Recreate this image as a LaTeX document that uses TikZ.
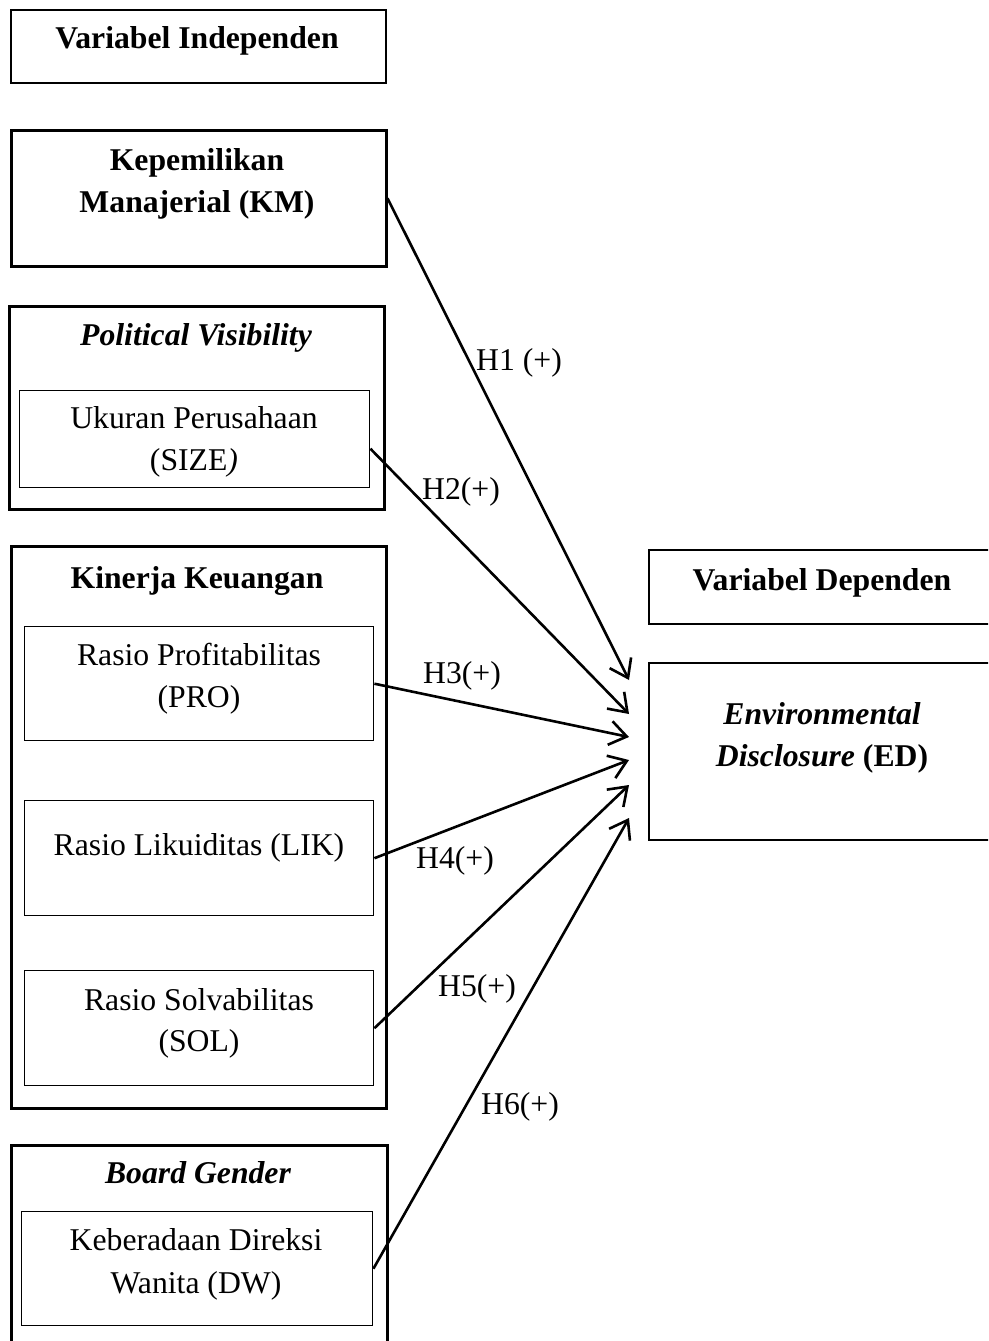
\documentclass[tikz,border=0pt]{standalone}
\usepackage{fontspec}
\setmainfont{Liberation Serif}
\usetikzlibrary{arrows.meta}
\newcommand{\fsz}{\fontsize{31.7}{42}\selectfont}
\tikzset{
  outerbox/.style={draw, line width=2.5pt, inner sep=0pt, anchor=north west},
  innerbox/.style={draw, line width=1.4pt, inner sep=0pt, anchor=north west},
  txt/.style={anchor=base, inner sep=0pt, font=\fsz},
  hyp/.style={line width=2.6pt, -{Straight Barb[length=17pt,width=24pt]}},
  hlab/.style={anchor=center, inner sep=0pt, font=\fsz}
}
\begin{document}
\begin{tikzpicture}[x=1pt,y=-1pt]
\useasboundingbox (0,0) rectangle (988,1341);
\clip (0,0) rectangle (988,1341);
% left column
\node[outerbox, line width=2.2pt, minimum width=375pt, minimum height=73pt] (vi) at (10,9) {};
\node[txt] (vit) at (197,48) {\bfseries Variabel Independen};

\node[outerbox, minimum width=375pt, minimum height=136pt] (km) at (10,129) {};
\node[txt] (kmt1) at (197,170) {\bfseries Kepemilikan};
\node[txt] (kmt2) at (197,212) {\bfseries Manajerial (KM)};

\node[outerbox, minimum width=375pt, minimum height=203pt] (pv) at (8,305) {};
\node[txt] (pvt) at (196,345) {\bfseries\itshape Political Visibility};
\node[innerbox, minimum width=350pt, minimum height=97pt] (size) at (19,390) {};
\node[txt] (st1) at (194,428) {Ukuran Perusahaan};
\node[txt] (st2) at (194,470) {(SIZE\textit{)}};

\node[outerbox, minimum width=375pt, minimum height=562pt] (kk) at (10,545) {};
\node[txt] (kkt) at (197,588) {\bfseries Kinerja Keuangan};
\node[innerbox, minimum width=349pt, minimum height=114pt] (pro) at (24,626) {};
\node[txt] (pt1) at (199,665) {Rasio Profitabilitas};
\node[txt] (pt2) at (199,707) {(PRO)};
\node[innerbox, minimum width=349pt, minimum height=115pt] (lik) at (24,800) {};
\node[txt] (lt1) at (199,855) {Rasio Likuiditas (LIK)};
\node[innerbox, minimum width=349pt, minimum height=115pt] (sol) at (24,970) {};
\node[txt] (sot1) at (199,1010) {Rasio Solvabilitas};
\node[txt] (sot2) at (199,1051) {(SOL)};

\node[outerbox, minimum width=376pt, minimum height=210pt] (bg) at (10,1144) {};
\node[txt] (bgt) at (198,1183) {\bfseries\itshape Board Gender};
\node[innerbox, minimum width=351pt, minimum height=114pt] (dw) at (21,1211) {};
\node[txt] (dt1) at (196,1250) {Keberadaan Direksi};
\node[txt] (dt2) at (196,1293) {Wanita (DW)};

% right column
\node[outerbox, line width=2.2pt, minimum width=352pt, minimum height=74pt] (vd) at (648,549) {};
\node[txt] (vdt) at (822,590) {\bfseries Variabel Dependen};
\node[outerbox, line width=1.7pt, minimum width=352pt, minimum height=177pt] (ed) at (648,662) {};
\node[txt] (edt1) at (822,724) {\bfseries\itshape Environmental};
\node[txt] (edt2) at (822,766) {\textbf{\textit{Disclosure}} \textbf{(ED)}};

% arrow targets
\coordinate (a1) at (629,680);
\coordinate (a2) at (629,714);
\coordinate (a3) at (629,737);
\coordinate (a4) at (629,760);
\coordinate (a5) at (629,785);
\coordinate (a6) at (629,818);

\draw[hyp] (km.east) -- (a1);
\draw[hyp] ([yshift=-9.5pt]size.east) -- (a2);
\draw[hyp] (pro.east) -- (a3);
\draw[hyp] (lik.east) -- (a4);
\draw[hyp] (sol.east) -- (a5);
\draw[hyp] (dw.east) -- (a6);

\node[hlab] (h1) at (519,363) {H1 (+)};
\node[hlab] (h2) at (461,492) {H2(+)};
\node[hlab] (h3) at (462,676) {H3(+)};
\node[hlab] (h4) at (455,861) {H4(+)};
\node[hlab] (h5) at (477,989) {H5(+)};
\node[hlab] (h6) at (520,1107) {H6(+)};
\end{tikzpicture}
\end{document}
